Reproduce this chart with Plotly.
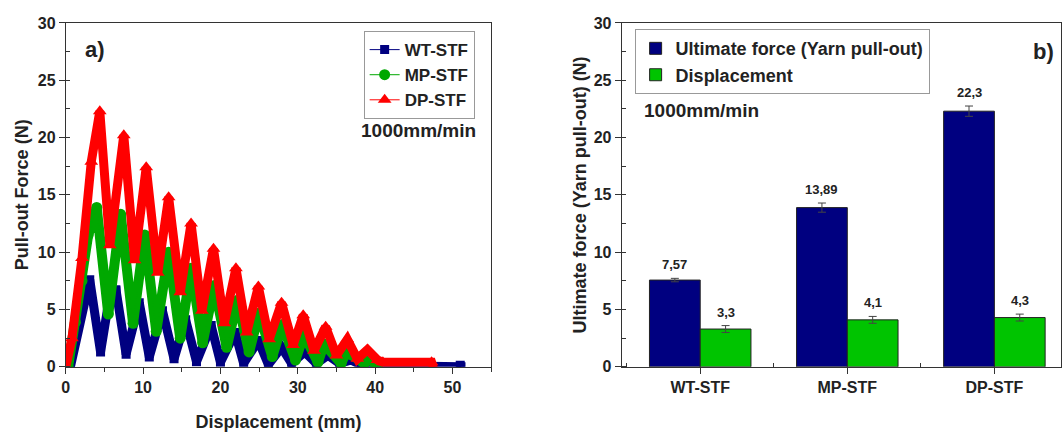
import plotly.graph_objects as go

# ---------------- data: panel a) pull-out curves (vertices read from picture) -------------
wt_x = [0, 0.6, 3.1, 4.5, 5.8, 6.5, 7.8, 9.5, 10.8, 12.5, 14.0, 15.5, 16.9, 18.8, 20.0, 21.9,
        23.0, 24.9, 26.2, 27.9, 29.2, 30.9, 32.4, 33.9, 35.4, 36.9, 38.2, 51.0, 51.1]
wt_y = [0, 0, 7.6, 1.3, 6.7, 6.7, 1.1, 5.6, 0.85, 4.9, 0.7, 4.1, 0.45, 3.6, 0.4, 3.0,
        0.3, 2.3, 0.2, 1.7, 0.3, 1.3, 0.3, 1.0, 0.3, 0.6, 0.15, 0.15, 0]

mp_x = [0.3, 1.25, 2.1, 2.9, 4.0, 5.5, 7.1, 8.7, 10.2, 11.7, 13.3, 14.8, 16.2, 17.7, 19.2, 20.8,
        22.2, 23.7, 25.0, 26.7, 28.0, 29.7, 30.8, 32.6, 33.4, 35.6, 36.3, 38.6, 39.1, 40.3]
mp_y = [0, 3.9, 7.5, 11.5, 13.9, 4.6, 13.3, 3.8, 11.5, 3.1, 10.0, 2.5, 8.6, 2.1, 7.1, 1.7,
        5.8, 1.3, 4.7, 0.9, 3.7, 0.6, 2.8, 0.4, 2.0, 0.3, 1.3, 0.3, 0.85, 0]

dp_x = [0, 0.8, 2.1, 3.3, 4.4, 5.7, 7.5, 8.9, 10.4, 11.9, 13.3, 14.8, 16.2, 17.6, 19.1, 20.5,
        22.0, 23.4, 24.9, 26.3, 27.9, 29.4, 30.7, 32.1, 33.6, 35.0, 36.4, 37.7, 39.0, 40.3,
        41.0, 47.3, 47.5]
dp_y = [0, 2.5, 9.5, 17.9, 22.3, 10.6, 20.2, 9.3, 17.4, 8.2, 14.8, 6.5, 12.5, 4.9, 10.3, 3.8,
        8.6, 3.0, 7.0, 2.4, 5.6, 1.9, 4.5, 1.4, 3.5, 1.0, 2.4, 0.7, 1.5, 0.6,
        0.4, 0.4, 0]

# ---------------- data: panel b) bars ----------------
categories = ["WT-STF", "MP-STF", "DP-STF"]
ultimate_force = [7.57, 13.89, 22.3]
ultimate_err = [0.15, 0.4, 0.45]
displacement = [3.3, 4.1, 4.3]
displacement_err = [0.3, 0.3, 0.3]

FONT = "Liberation Sans, Arial, sans-serif"
BLUE = "#000080"
GREEN_L = "#00A800"
RED = "#FF0000"
GREEN_B = "#00C400"

fig = go.Figure()

series = [
    ("WT-STF", wt_x, wt_y, BLUE, "square", 9, 9),
    ("MP-STF", mp_x, mp_y, GREEN_L, "circle", 11, 10),
    ("DP-STF", dp_x, dp_y, RED, "triangle-up", 12, 9),
]
for name, xs, ys, col, sym, msize, band in series:
    fig.add_trace(go.Scatter(x=xs, y=ys, mode="lines", line=dict(color=col, width=band),
                             showlegend=False, hoverinfo="skip", xaxis="x", yaxis="y"))
    fig.add_trace(go.Scatter(x=xs, y=ys, mode="lines+markers", name=name,
                             line=dict(color=col, width=1),
                             marker=dict(symbol=sym, size=msize, color=col),
                             xaxis="x", yaxis="y", legend="legend"))

# bars
xcat = list(range(len(categories)))
fig.add_trace(go.Bar(x=xcat, y=ultimate_force, name="Ultimate force (Yarn pull-out)",
                     marker=dict(color=BLUE, line=dict(color="#222222", width=1)),
                     error_y=dict(type="data", array=ultimate_err, color="#444444",
                                  thickness=1, width=4),
                     xaxis="x2", yaxis="y2", legend="legend2", offsetgroup="a"))
fig.add_trace(go.Bar(x=xcat, y=displacement, name="Displacement",
                     marker=dict(color=GREEN_B, line=dict(color="#222222", width=1)),
                     error_y=dict(type="data", array=displacement_err, color="#444444",
                                  thickness=1, width=4),
                     xaxis="x2", yaxis="y2", legend="legend2", offsetgroup="b"))

bar_w = 0.345
annotations = []
for vals, errs, off in [(ultimate_force, ultimate_err, -bar_w / 2),
                        (displacement, displacement_err, bar_w / 2)]:
    for i, (v, e) in enumerate(zip(vals, errs)):
        annotations.append(dict(x=i + off, y=v + e, xref="x2", yref="y2",
                                text=f"<b>{v}</b>".replace(".", ","), showarrow=False,
                                xanchor="center", yanchor="bottom", yshift=4,
                                font=dict(family=FONT, size=13, color="#222222")))

annotations += [
    dict(x=91 / 1063, y=1 - 43 / 434, xref="paper", yref="paper", text="<b>a)</b>",
         xanchor="center", yanchor="middle",
         showarrow=False, font=dict(family=FONT, size=22, color="#222")),
    dict(x=416 / 1063, y=1 - 127 / 434, xref="paper", yref="paper", text="<b>1000mm/min</b>",
         xanchor="center", yanchor="middle",
         showarrow=False, font=dict(family=FONT, size=19, color="#222")),
    dict(x=1043 / 1063, y=1 - 45 / 434, xref="paper", yref="paper", text="<b>b)</b>",
         xanchor="center", yanchor="middle",
         showarrow=False, font=dict(family=FONT, size=22, color="#222")),
    dict(x=700 / 1063, y=1 - 107 / 434, xref="paper", yref="paper", text="<b>1000mm/min</b>",
         xanchor="center", yanchor="middle",
         showarrow=False, font=dict(family=FONT, size=19, color="#222")),
]

ydom = [1 - 373.5 / 434, 1 - 15.5 / 434]
tickfont = dict(family=FONT, size=16, color="#222", weight="bold")
titlefont = dict(family=FONT, size=18, color="#222", weight="bold")

fig.update_layout(
    width=1063, height=434, margin=dict(l=0, r=0, t=0, b=0),
    paper_bgcolor="white", plot_bgcolor="white",
    barmode="group", bargap=0.31, bargroupgap=0,
    annotations=annotations,
    xaxis=dict(domain=[62 / 1063, 489 / 1063], range=[0, 55], dtick=10, tick0=0,
               showline=True, linecolor="#333", linewidth=1, mirror=True,
               ticks="outside", ticklen=6, tickcolor="#333", showgrid=False, zeroline=False,
               minor=dict(dtick=5, ticks="outside", ticklen=4, tickcolor="#333"),
               tickfont=tickfont, anchor="y",
               title=dict(text="Displacement (mm)", font=titlefont, standoff=20)),
    yaxis=dict(domain=ydom, range=[0, 30], dtick=5,
               showline=True, linecolor="#333", linewidth=1, mirror=True,
               ticks="outside", ticklen=6, tickcolor="#333", showgrid=False, zeroline=False,
               minor=dict(dtick=2.5, ticks="inside", ticklen=4, tickcolor="#333"),
               tickfont=tickfont, anchor="x",
               title=dict(text="Pull-out Force (N)", font=titlefont, standoff=4)),
    xaxis2=dict(domain=[620 / 1063, 1061 / 1063], range=[-0.534, 2.453],
                tickmode="array", tickvals=xcat, ticktext=categories,
                showline=True, linecolor="#333", linewidth=1, mirror=True,
                ticks="outside", ticklen=6, tickcolor="#333", showgrid=False, zeroline=False,
                minor=dict(tickmode="array", tickvals=[-0.5, 0.5, 1.5], ticks="inside",
                           ticklen=4, tickcolor="#333"),
                tickfont=tickfont, anchor="y2"),
    yaxis2=dict(domain=ydom, range=[0, 30], dtick=5,
                showline=True, linecolor="#333", linewidth=1, mirror=True,
                ticks="outside", ticklen=6, tickcolor="#333", showgrid=False, zeroline=False,
                minor=dict(dtick=2.5, ticks="inside", ticklen=4, tickcolor="#333"),
                tickfont=tickfont, anchor="x2",
                title=dict(text="Ultimate force (Yarn pull-out) (N)", font=titlefont, standoff=2)),
    legend=dict(x=361 / 1063, y=1 - 24 / 434, xanchor="left", yanchor="top",
                bordercolor="#999", borderwidth=1, bgcolor="white",
                font=dict(family=FONT, size=17, color="#222", weight="bold"),
                tracegroupgap=0, itemwidth=30),
    legend2=dict(x=633 / 1063, y=1 - 22 / 434, xanchor="left", yanchor="top",
                 bordercolor="#999", borderwidth=1, bgcolor="white",
                 font=dict(family=FONT, size=18, color="#222", weight="bold"),
                 tracegroupgap=0),
)

fig.write_html("out.html")
